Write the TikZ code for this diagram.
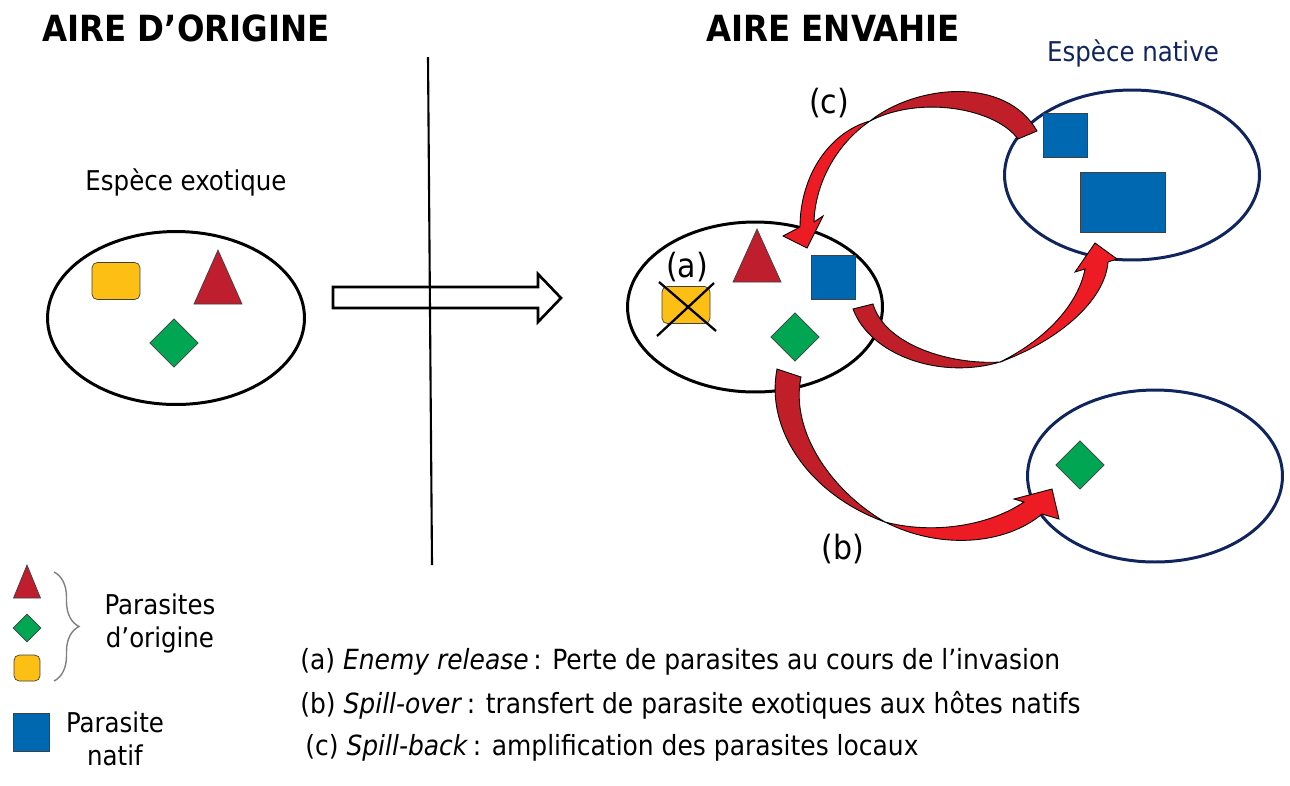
\documentclass[tikz,border=0pt]{standalone}
\usepackage{fontspec}
\setmainfont{DejaVu Sans Condensed}
\usepackage{tikz}
\usetikzlibrary{shapes,positioning,calc,decorations.pathreplacing}
\definecolor{pyellow}{RGB}{253,191,19}
\definecolor{pred}{RGB}{190,30,45}
\definecolor{pgreen}{RGB}{0,166,81}
\definecolor{pblue}{RGB}{0,103,177}
\definecolor{pnavy}{RGB}{16,36,94}
\definecolor{adark}{RGB}{192,30,40}
\definecolor{abright}{RGB}{237,28,36}
\tikzstyle{host} = [ellipse, draw=black, line width=1.7pt, minimum width=5.1cm, minimum height=3.4cm]
\tikzstyle{native} = [host, draw=pnavy]
\tikzstyle{yel} = [rectangle, rounded corners=3pt, draw=black!75, fill=pyellow, minimum width=0.96cm, minimum height=0.74cm, inner sep=0]
\tikzstyle{sq} = [rectangle, draw=black!75, fill=pblue, minimum width=0.88cm, minimum height=0.88cm, inner sep=0]
\tikzstyle{diam} = [diamond, draw=black!75, fill=pgreen, minimum width=0.97cm, minimum height=0.97cm, inner sep=0]
\tikzstyle{tri} = [draw=black!75, fill=pred]
\tikzstyle{ribbon} = [draw=black, line width=0.5pt, line join=miter]
\tikzstyle{txt} = [font=\fontsize{15.5}{18.8}\selectfont, inner sep=0]
\tikzstyle{deftxt} = [font=\fontsize{15.8}{18.8}\selectfont, inner sep=0, anchor=west]
\tikzstyle{title} = [font=\fontsize{20.5}{24}\selectfont\bfseries, inner sep=0]
\tikzstyle{tag} = [font=\fontsize{19}{22}\selectfont, inner sep=0]
\newcommand{\paratri}[4]{\filldraw[tri] (#1-#4,#3) -- (#1,#2) -- (#1+#4,#3) -- cycle;}

\begin{document}
\begin{tikzpicture}[x=0.02cm, y=-0.02cm]
    \useasboundingbox (0,0) rectangle (1290,785);

    % Titles
    \node[title, anchor=west] (torig) at (42,28) {AIRE D’ORIGINE};
    \node[title, anchor=west] (tinv) at (706,28) {AIRE ENVAHIE};

    % Origin range
    \node[txt] (exolbl) at (186,182) {Espèce exotique};
    \node[host, minimum width=5.14cm, minimum height=3.46cm] (exo0) at (176,318) {};
    \node[yel] (y0) at (116,281) {};
    \paratri{218}{250}{304}{24}
    \node[diam] (d0) at (174,343) {};

    % Introduction arrow and border
    \filldraw[fill=white, line width=1.5pt] (333,287) -- (538,287) -- (538,274) -- (561,298) -- (538,322) -- (538,308) -- (333,308) -- cycle;
    \coordinate (septop) at (428,57);
    \coordinate (sepbot) at (432,565);
    \draw[line width=1.2pt] (septop) -- (sepbot);

    % Invaded range
    \node[host] (exo1) at (755,307) {};
    \node[tag] (la) at (687,267) {(a)};
    \node[yel] (y1) at (686,305) {};
    \draw[line width=1.3pt] ($(y1)+(-29,31)$) -- ($(y1)+(28,-22)$);
    \draw[line width=1.3pt] ($(y1)+(-27,-23)$) -- ($(y1)+(30,26)$);
    \paratri{757}{229}{282}{24}
    \node[sq] (b1) at (833,277) {};
    \node[diam] (d1) at (795,337) {};

    % Native hosts
    \node[txt, text=pnavy] (natlbl) at (1133,53) {Espèce native};
    \node[native] (nat1) at (1132,175) {};
    \node[sq] (b2) at (1065,135) {};
    \node[sq, minimum width=1.7cm, minimum height=1.2cm] (b3) at (1123,202) {};
    \node[native, minimum height=3.44cm] (nat2) at (1155,476) {};
    \node[diam] (d2) at (1080,465) {};

    % Spill-back
    \coordinate (tailc) at (1018,139);
    \coordinate (twistc) at (870,121);
    \coordinate (tipc) at (807,248);
    \filldraw[ribbon, fill=adark] (tailc) .. controls (995,108) and (920,95) .. (twistc) .. controls (915,85) and (1005,75) .. (1037,131) -- cycle;
    \filldraw[ribbon, fill=abright] (twistc) .. controls (830,132) and (800,175) .. (800,227) -- (783,236) -- (tipc) -- (823,216) -- (814,222) .. controls (815,185) and (835,145) .. (twistc) -- cycle;

    % Exotic to native
    \coordinate (tailn) at (853,309);
    \coordinate (twistn) at (1000,362);
    \coordinate (tipn) at (1095,243);
    \filldraw[ribbon, fill=adark] (tailn) .. controls (870,355) and (940,380) .. (twistn) .. controls (950,365) and (885,345) .. (873,304) -- cycle;
    \filldraw[ribbon, fill=abright] (twistn) .. controls (1060,340) and (1105,300) .. (1108,262) -- (1117,259) -- (tipn) -- (1075,272) -- (1085,269) .. controls (1078,305) and (1045,340) .. (twistn) -- cycle;

    % Spill-over
    \coordinate (tailb) at (777,369);
    \coordinate (twistb) at (885,522);
    \coordinate (tipb) at (1052,489);
    \filldraw[ribbon, fill=adark] (tailb) .. controls (765,430) and (810,495) .. (twistb) .. controls (830,490) and (790,430) .. (801,377) -- cycle;
    \filldraw[ribbon, fill=abright] (twistb) .. controls (940,550) and (1005,545) .. (1042,514) -- (1059,519) -- (tipb) -- (1014,499) -- (1024,502) .. controls (990,525) and (935,535) .. (twistb) -- cycle;

    \node[tag] (lc) at (829,103) {(c)};
    \node[tag] (lb) at (843,549) {(b)};

    % Legend
    \paratri{27}{565}{598}{13.5}
    \node[diam, minimum width=0.56cm, minimum height=0.56cm] (dl) at (27,628) {};
    \node[yel, minimum width=0.52cm, minimum height=0.52cm] (yl) at (27,668) {};
    \coordinate (bracetop) at (54,572);
    \coordinate (bracebot) at (54,681);
    \draw[gray, line width=0.8pt, decorate, decoration={brace, amplitude=0.5cm}] (bracetop) -- (bracebot);
    \node[txt, align=center] (lorig) at (160,623) {Parasites\\d’origine};
    \node[sq, minimum width=0.72cm, minimum height=0.76cm] (bl) at (31,732) {};
    \node[txt, align=center] (lnat) at (115,739) {Parasite\\natif};

    \node[deftxt] (defa) at (300,662) {(a) \textit{Enemy release}\,: Perte de parasites au cours de l’invasion};
    \node[deftxt] (defb) at (300,705) {(b) \textit{Spill-over}\,: transfert de parasite exotiques aux hôtes natifs};
    \node[deftxt] (defc) at (305,748) {(c) \textit{Spill-back}\,: amplification des parasites locaux};
\end{tikzpicture}
\end{document}
